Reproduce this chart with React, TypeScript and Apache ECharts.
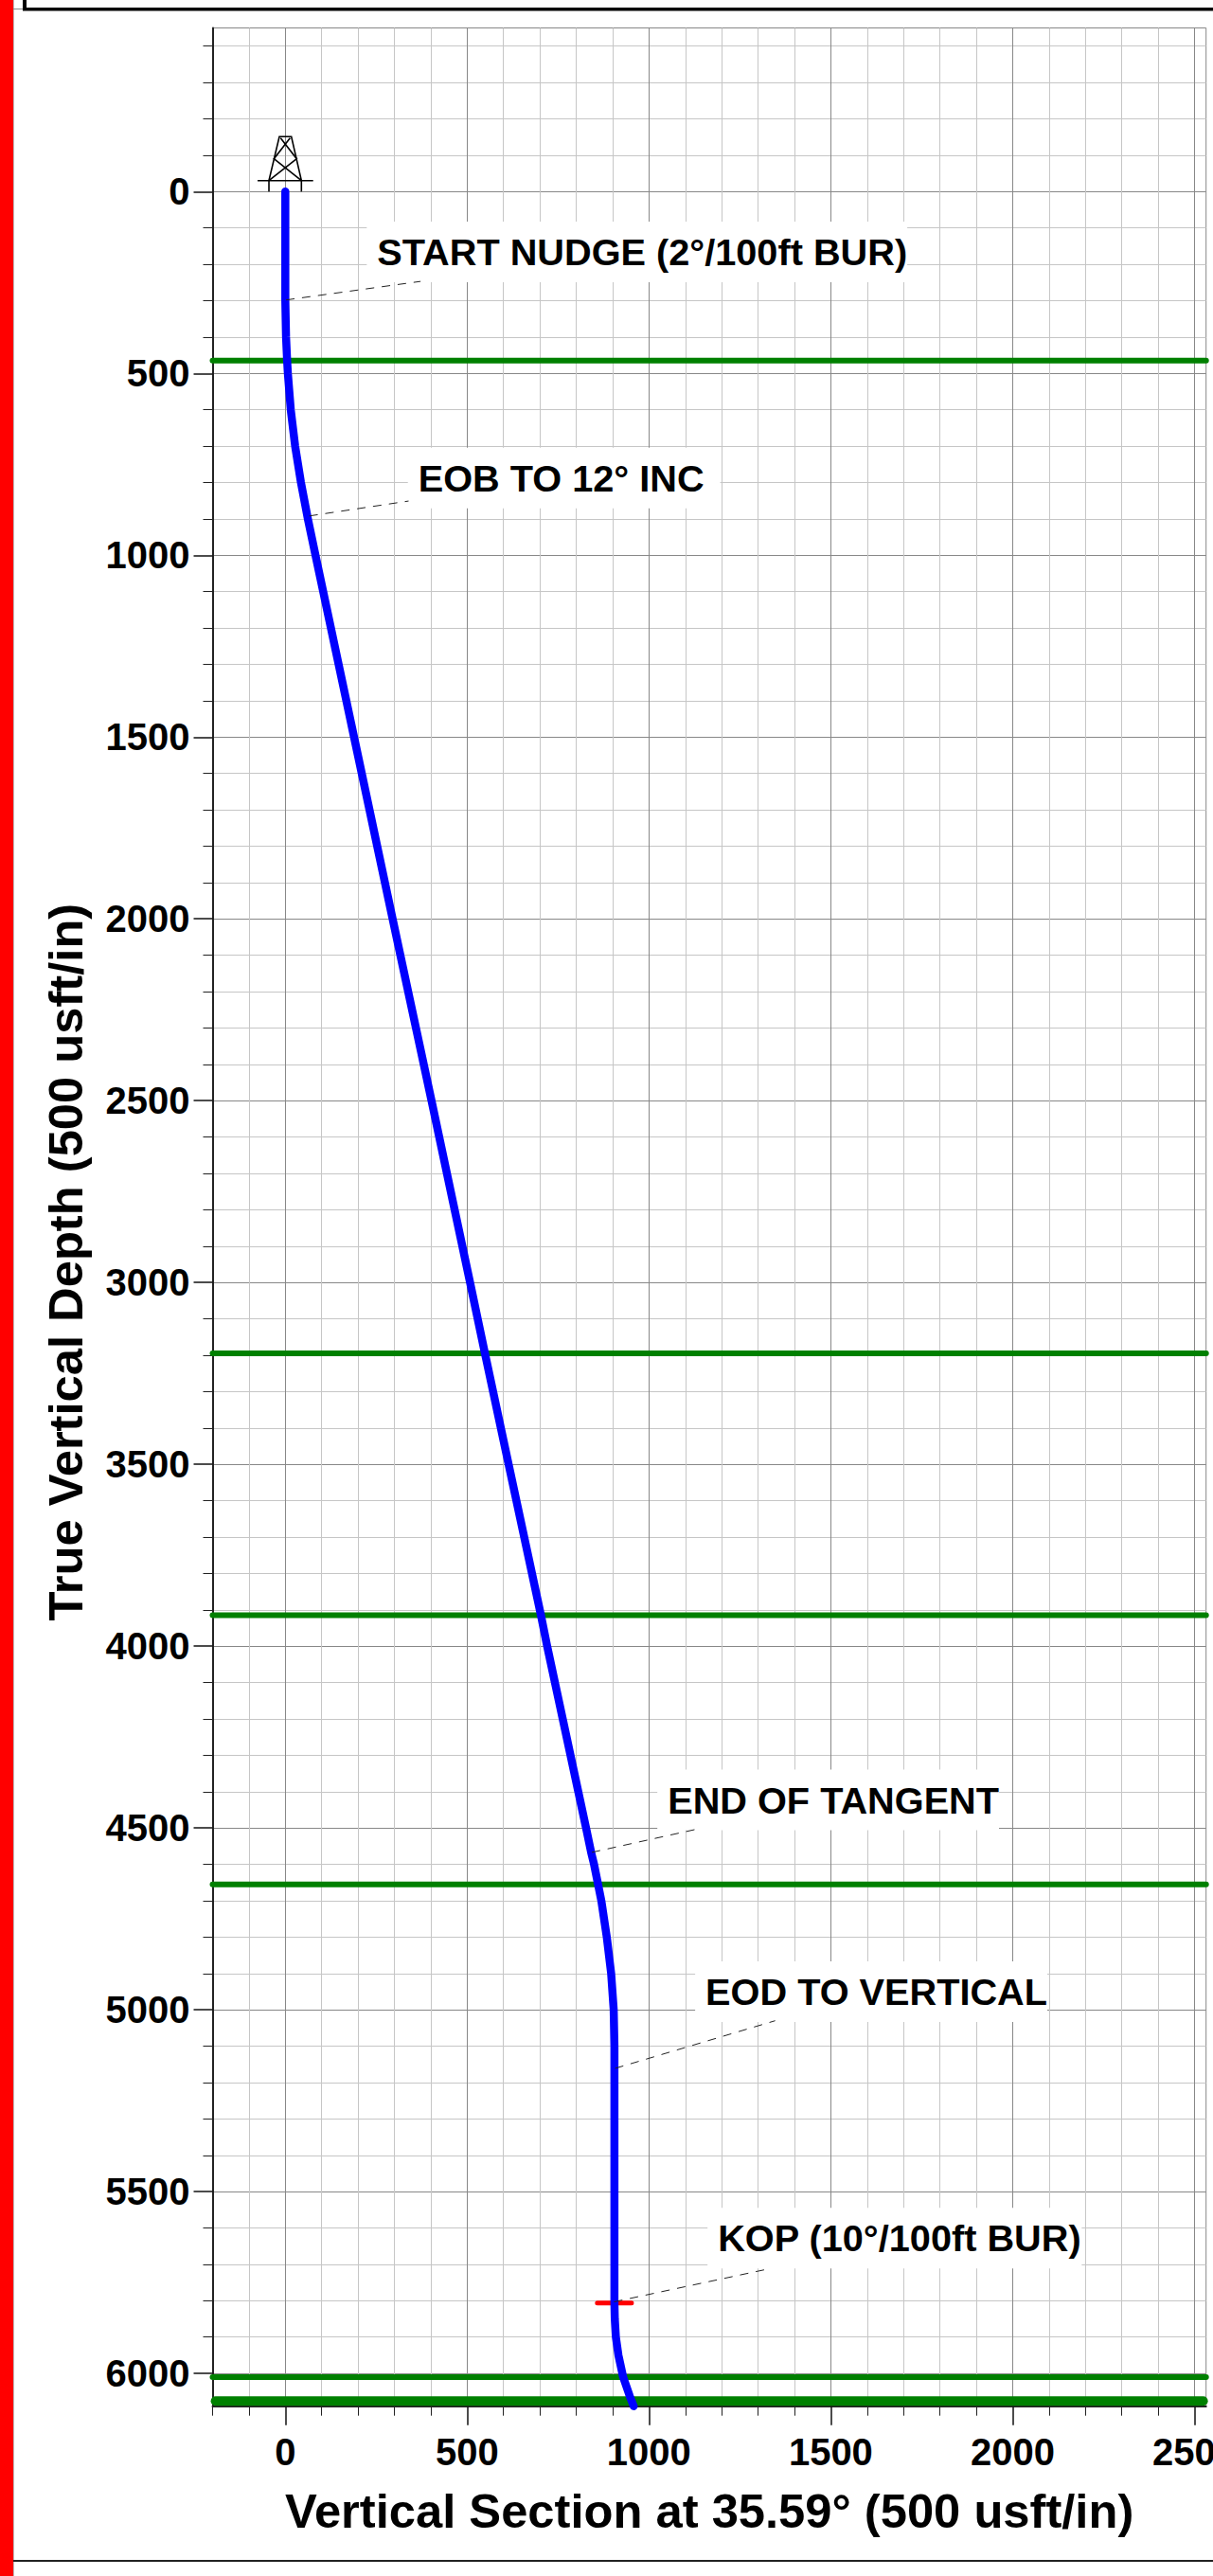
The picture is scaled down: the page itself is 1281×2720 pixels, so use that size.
import React, { useEffect, useRef } from "react";
import * as echarts from "echarts";

const FONT = "'Liberation Sans', Arial, sans-serif";

// Scales
const xMin = -200;
const xMax = 2532;
const yMin = -450;
const yMax = 6090;

const xMajorTicks = [0, 500, 1000, 1500, 2000, 2500];
const xMinorTicks = [-200, -100, 100, 200, 300, 400, 600, 700, 800, 900, 1100, 1200, 1300, 1400, 1600, 1700, 1800, 1900, 2100, 2200, 2300, 2400];
const yMajorTicks = [0, 500, 1000, 1500, 2000, 2500, 3000, 3500, 4000, 4500, 5000, 5500, 6000];
const yMinorTicks = [
  -400, -300, -200, -100, 100, 200, 300, 400, 600, 700, 800, 900, 1100, 1200, 1300, 1400, 1600, 1700, 1800, 1900,
  2100, 2200, 2300, 2400, 2600, 2700, 2800, 2900, 3100, 3200, 3300, 3400, 3600, 3700, 3800, 3900, 4100, 4200, 4300, 4400,
  4600, 4700, 4800, 4900, 5100, 5200, 5300, 5400, 5600, 5700, 5800, 5900,
];

// Well path
const pathSection = [0, 0, 0, 0, 2, 5, 7, 15, 27, 43, 62, 83, 189, 295, 402, 508, 549, 614, 703, 720, 827, 841, 849, 860, 869, 884, 896, 903, 905, 905, 905, 905, 906, 909, 916, 929, 947, 958];
const pathDepth = [0, 100, 200, 300, 400, 465, 500, 600, 700, 800, 900, 1000, 1500, 2000, 2500, 3000, 3195, 3500, 3915, 4000, 4500, 4567, 4600, 4655, 4700, 4800, 4900, 5000, 5100, 5200, 5500, 5806, 5850, 5900, 5950, 6010, 6062, 6090];

// Formation tops (TVD)
const formationTops = [465, 3195, 3915, 4655, 6010];
const totalDepthLine = 6076;

// KOP marker
const kopDepth = 5806;
const kopSectionRange = [858, 952];

// Annotations
const annotationTexts = ["START NUDGE (2°/100ft BUR)", "EOB TO 12° INC", "END OF TANGENT", "EOD TO VERTICAL", "KOP (10°/100ft BUR)"];
const annotationSections = [224, 337, 1023, 1127, 1161];
const annotationDepths = [166, 788, 4423, 4950, 5628];
const leaderFromSections = [2, 66, 843, 907, 904];
const leaderFromDepths = [298, 892, 4567, 5161, 5803];
const leaderToSections = [372, 339, 1128, 1347, 1317];
const leaderToDepths = [247, 851, 4504, 5030, 5715];

const xTitle = "Vertical Section at 35.59° (500 usft/in)";
const yTitle = "True Vertical Depth (500 usft/in)";

// Derrick icon outline, pixels relative to the wellhead
const derrickStrokes = [
  [[-29.3, -11.6], [29.4, -11.6]],
  [[-17.3, 0], [-17.3, -11.6], [-6.3, -58], [6.4, -58], [17, -11.6], [17, 0]],
  [[-17.3, -11.6], [12, -34.6], [-5, -56.6]],
  [[17, -11.6], [-12, -34.6], [5, -56.6]],
];

const textBase = { fontFamily: FONT, fontWeight: "bold" as const, color: "#000" };

function makeOption() {
  const green = (y: number, width: number, from: number, to: number) => ({
    type: "line",
    z: 2,
    silent: true,
    clip: false,
    symbol: "none",
    lineStyle: { color: "#008000", width, cap: "round" },
    data: [[from, y], [to, y]],
  });
  const plainNumber = (v: number) => String(v);

  return {
    animation: false,
    backgroundColor: "#fff",
    grid: {
      left: 224.5,
      top: 29.5,
      right: 7.3,
      bottom: 179.3,
      show: true,
      borderColor: "#888",
      borderWidth: 1,
      backgroundColor: "#fff",
      containLabel: false,
      outerBoundsMode: "none",
    },
    xAxis: [
      {
        type: "value",
        min: xMin,
        max: xMax,
        position: "bottom",
        name: xTitle,
        nameLocation: "middle",
        nameGap: 85,
        nameTextStyle: { ...textBase, fontSize: 50.7 },
        axisLine: { onZero: false, lineStyle: { color: "#222", width: 2 } },
        axisTick: { customValues: xMajorTicks, length: 20, lineStyle: { color: "#111", width: 1.5 } },
        axisLabel: { customValues: xMajorTicks, margin: 28, fontSize: 40, formatter: plainNumber, ...textBase },
        splitLine: { show: true, lineStyle: { color: "#888", width: 1 } },
      },
      {
        type: "value",
        min: xMin,
        max: xMax,
        position: "bottom",
        axisLine: { show: false, onZero: false },
        axisTick: { customValues: xMinorTicks, length: 10, lineStyle: { color: "#222", width: 1 } },
        axisLabel: { show: false },
        splitLine: { show: true, lineStyle: { color: "#c6c6c6", width: 1 } },
      },
    ],
    yAxis: [
      {
        type: "value",
        min: yMin,
        max: yMax,
        inverse: true,
        position: "left",
        name: yTitle,
        nameLocation: "middle",
        nameGap: 130,
        nameRotate: 90,
        nameTextStyle: { ...textBase, fontSize: 50.7, padding: [0, 95, 0, 0] },
        axisLine: { onZero: false, lineStyle: { color: "#222", width: 2 } },
        axisTick: { customValues: yMajorTicks, length: 20, lineStyle: { color: "#111", width: 1.5 } },
        axisLabel: { customValues: yMajorTicks, margin: 24, fontSize: 40, formatter: plainNumber, ...textBase },
        splitLine: { show: true, lineStyle: { color: "#888", width: 1 } },
      },
      {
        type: "value",
        min: yMin,
        max: yMax,
        inverse: true,
        position: "left",
        axisLine: { show: false, onZero: false },
        axisTick: { customValues: yMinorTicks, length: 10, lineStyle: { color: "#222", width: 1 } },
        axisLabel: { show: false },
        splitLine: { show: true, lineStyle: { color: "#c6c6c6", width: 1 } },
      },
    ],
    series: [
      {
        type: "scatter",
        z: 1,
        silent: true,
        symbolSize: 0,
        clip: false,
        itemStyle: { opacity: 1 },
        data: annotationTexts.map((name, i) => ({
          name,
          value: [annotationSections[i], annotationDepths[i]],
          itemStyle: { opacity: 1 },
          label: {
            show: true,
            position: "right",
            distance: 0,
            formatter: name,
            backgroundColor: "#fff",
            lineHeight: 28,
            fontSize: 39.7,
            padding: [18, i === 1 ? 17 : 0, 18, 11],
            ...textBase,
          },
        })),
      },
      ...formationTops.map((y) => green(y, 6, xMin, xMax)),
      green(totalDepthLine, 10, xMin + 8, xMax - 8),
      {
        type: "line",
        z: 3,
        silent: true,
        clip: false,
        symbol: "none",
        lineStyle: { color: "#ff0000", width: 5, cap: "round" },
        data: [[kopSectionRange[0], kopDepth], [kopSectionRange[1], kopDepth]],
      },
      {
        type: "line",
        z: 4,
        silent: true,
        clip: false,
        symbol: "none",
        lineStyle: { color: "#0000ff", width: 8.5, cap: "round", join: "round" },
        data: pathSection.map((x, i) => [x, pathDepth[i]]),
      },
      ...annotationTexts.map((_, i) => ({
        type: "line",
        z: 5,
        silent: true,
        clip: false,
        symbol: "none",
        lineStyle: { color: "#222", width: 1, type: [9, 8] },
        data: [[leaderFromSections[i], leaderFromDepths[i]], [leaderToSections[i], leaderToDepths[i]]],
      })),
      {
        type: "custom",
        z: 6,
        silent: true,
        clip: false,
        data: [[0, 0]],
        renderItem: (_: any, api: any) => {
          const [cx, cy] = api.coord([api.value(0), api.value(1)]);
          return {
            type: "group",
            x: cx,
            y: cy,
            children: derrickStrokes.map((points) => ({
              type: "polyline",
              shape: { points },
              style: { stroke: "#000", lineWidth: 1.6, fill: "none" },
            })),
          };
        },
      },
    ],
    graphic: [
      { type: "rect", z: 100, shape: { x: 0, y: 0, width: 14, height: 2720 }, style: { fill: "#ff0000" } },
      { type: "rect", z: 100, shape: { x: 14, y: 0, width: 0.8, height: 2720 }, style: { fill: "#aaa" } },
      { type: "rect", z: 100, shape: { x: 14, y: 9, width: 10, height: 1 }, style: { fill: "#888" } },
      { type: "rect", z: 100, shape: { x: 24, y: 0, width: 4, height: 11 }, style: { fill: "#000" } },
      { type: "rect", z: 100, shape: { x: 24, y: 8, width: 1257, height: 3.5 }, style: { fill: "#000" } },
      { type: "rect", z: 100, shape: { x: 14, y: 2703, width: 1267, height: 2 }, style: { fill: "#222" } },
    ],
  };
}

export default function App() {
  const ref = useRef<HTMLDivElement>(null);
  useEffect(() => {
    const chart = echarts.init(ref.current!, undefined, { renderer: "svg" });
    chart.setOption(makeOption() as any);
    return () => chart.dispose();
  }, []);
  return <div ref={ref} style={{ position: "absolute", left: 0, top: 0, width: 1281, height: 2720 }} />;
}
